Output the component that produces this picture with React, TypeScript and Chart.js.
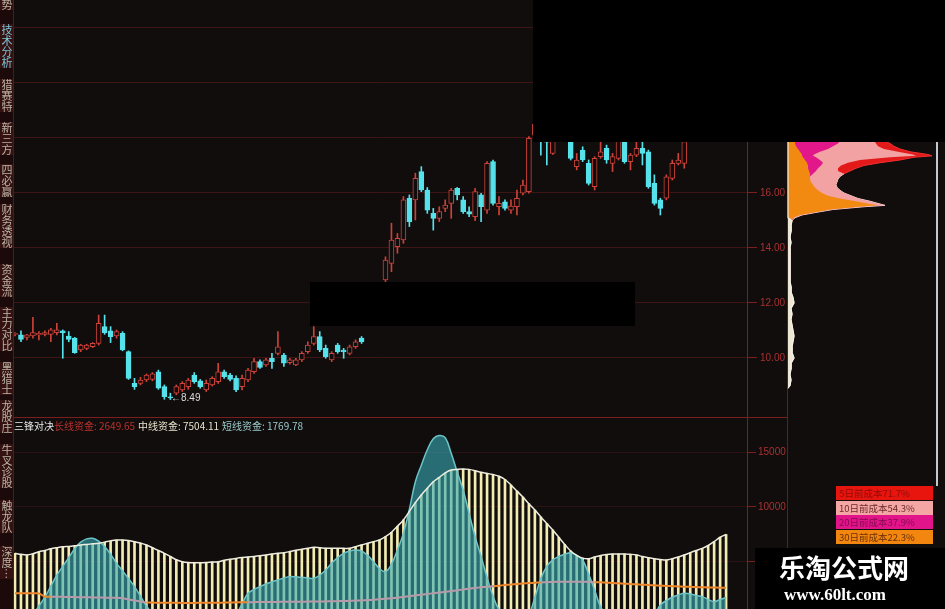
import React, { useEffect, useRef } from 'react';
import Chart from 'chart.js/auto';

// ---------- price panel (candles) ----------
const OPEN = [
  10.86, 10.84, 10.75, 10.80, 10.84, 10.86, 10.86, 10.92, 10.99, 10.80,
  10.72, 10.29, 10.35, 10.41, 10.53, 11.14, 10.99, 10.80, 10.90, 10.23,
  9.08, 9.08, 9.20, 9.22, 9.50, 8.96, 8.59, 8.72, 8.84, 8.96,
  9.38, 9.17, 8.84, 9.02, 9.14, 9.50, 9.38, 9.26, 8.96, 9.20,
  9.50, 9.87, 9.75, 9.99, 10.17, 10.11, 9.83, 9.75, 9.93, 10.23,
  10.53, 10.78, 10.35, 9.93, 10.47, 10.29, 10.17, 10.41, 10.72, 11.20,
  11.60, 12.10, 12.84, 13.44, 14.05, 14.29, 15.81, 15.75, 16.78, 16.11,
  15.26, 15.08, 15.44, 15.62, 16.17, 15.75, 15.32, 15.14, 15.93, 15.38,
  17.14, 15.50, 15.68, 15.38, 15.50, 15.99, 16.05, 18.10, 18.30, 18.00,
  17.44, 18.40, 18.70, 18.20, 16.96, 17.56, 17.08, 16.23, 17.32, 17.62,
  17.08, 17.26, 17.95, 17.14, 17.38, 17.62, 17.50, 16.35, 15.75, 15.81,
  16.53, 17.08, 17.08, 17.90, 18.40, 18.90, 18.50, 18.90, 19.30, 19.00,
];
const HIGH = [
  10.92, 10.99, 10.86, 11.48, 10.96, 10.99, 11.08, 11.26, 11.02, 10.96,
  10.75, 10.50, 10.50, 10.56, 11.56, 11.56, 11.14, 11.02, 10.96, 10.26,
  9.26, 9.30, 9.42, 9.47, 9.56, 9.02, 8.72, 9.02, 9.14, 9.26,
  9.47, 9.22, 9.20, 9.32, 9.81, 9.56, 9.44, 9.35, 9.38, 9.62,
  9.99, 9.93, 9.99, 10.17, 10.96, 10.17, 9.99, 9.99, 10.23, 10.59,
  11.14, 10.96, 10.47, 10.23, 10.53, 10.35, 10.47, 10.66, 10.78, 11.70,
  12.20, 12.70, 13.68, 14.90, 14.53, 15.87, 15.93, 16.72, 16.96, 16.20,
  15.44, 15.50, 15.75, 16.17, 16.20, 15.87, 15.50, 16.17, 15.99, 17.14,
  17.20, 15.87, 15.75, 15.75, 16.11, 16.47, 18.05, 18.70, 18.60, 18.20,
  18.30, 18.90, 19.00, 18.40, 17.44, 17.68, 17.20, 17.32, 17.87, 17.74,
  17.44, 18.10, 18.10, 17.44, 17.85, 17.90, 17.56, 16.66, 15.81, 16.66,
  17.20, 17.44, 18.00, 18.60, 19.10, 19.20, 19.00, 19.50, 19.60, 19.70,
];
const LOW = [
  10.80, 10.59, 10.66, 10.72, 10.66, 10.80, 10.59, 10.84, 9.99, 10.59,
  10.17, 10.23, 10.30, 10.38, 10.47, 10.86, 10.56, 10.72, 10.26, 9.22,
  8.86, 9.02, 9.14, 9.17, 8.86, 8.50, 8.49, 8.66, 8.78, 8.86,
  9.08, 8.90, 8.78, 8.98, 9.08, 9.26, 9.17, 8.78, 8.84, 9.14,
  9.44, 9.62, 9.69, 9.62, 10.11, 9.69, 9.78, 9.72, 9.87, 10.17,
  10.47, 10.23, 9.99, 9.87, 10.17, 9.99, 10.11, 10.35, 10.53, 11.18,
  11.50, 12.00, 12.78, 13.14, 13.81, 14.17, 14.78, 15.02, 16.05, 15.26,
  14.65, 14.96, 15.32, 15.08, 15.75, 15.26, 15.14, 14.99, 14.96, 15.26,
  15.56, 15.20, 15.38, 15.26, 15.20, 15.93, 15.99, 18.00, 17.38, 17.02,
  17.40, 18.20, 18.10, 17.20, 16.84, 17.14, 16.29, 16.11, 17.26, 17.08,
  16.78, 17.20, 17.08, 16.84, 17.32, 17.02, 16.17, 15.56, 15.20, 15.75,
  16.47, 17.02, 16.90, 17.88, 18.30, 17.90, 18.30, 18.70, 18.90, 18.90,
];
const CLOSE = [
  10.87, 10.68, 10.84, 10.92, 10.90, 10.92, 11.02, 11.02, 10.92, 10.68,
  10.19, 10.47, 10.47, 10.53, 11.26, 10.92, 10.78, 10.96, 10.29, 9.26,
  8.96, 9.20, 9.38, 9.42, 8.90, 8.59, 8.55, 8.96, 9.08, 9.20,
  9.14, 8.96, 9.08, 9.26, 9.50, 9.32, 9.22, 8.84, 9.26, 9.56,
  9.87, 9.66, 9.93, 9.87, 10.41, 9.81, 9.93, 9.93, 10.17, 10.47,
  10.78, 10.29, 10.05, 10.17, 10.23, 10.23, 10.41, 10.59, 10.59, 11.60,
  12.10, 12.60, 13.56, 14.29, 14.35, 15.75, 14.96, 16.53, 16.11, 15.38,
  15.08, 15.32, 15.56, 16.11, 15.93, 15.32, 15.23, 16.05, 15.50, 17.08,
  15.62, 15.62, 15.44, 15.52, 15.81, 16.29, 17.99, 18.50, 17.90, 17.85,
  18.10, 18.70, 18.30, 17.26, 17.20, 17.20, 16.35, 17.26, 17.50, 17.20,
  17.32, 17.90, 17.14, 17.38, 17.62, 17.44, 16.23, 15.62, 15.44, 16.59,
  17.08, 17.20, 17.87, 18.40, 18.90, 18.50, 18.90, 19.30, 19.00, 19.40,
];
const PRICE_TICKS = [10, 12, 14, 16, 18, 20, 22];

// ---------- indicator panel (三锋对决) ----------
const MID_FUND = [
  5790, 5700, 5640, 5750, 5940, 6050, 6200, 6300, 6380, 6420,
  6480, 6550, 6600, 6650, 6700, 6800, 6920, 7000, 7000, 6950,
  6850, 6720, 6550, 6300, 6050, 5790, 5500, 5200, 5030, 4960,
  4940, 4940, 4960, 5000, 5030, 5150, 5250, 5330, 5400, 5460,
  5500, 5560, 5640, 5720, 5800, 5850, 5950, 6060, 6150, 6250,
  6330, 6300, 6260, 6240, 6240, 6240, 6250, 6400, 6550, 6700,
  6850, 7000, 7300, 7700, 8250, 8820, 9600, 10400, 11100, 11700,
  12300, 12700, 13100, 13360, 13420, 13450, 13420, 13300, 13150, 13060,
  12950, 12800, 12500, 12000, 11450, 10900, 10300, 9730, 9100, 8500,
  7910, 7250, 6600, 6000, 5600, 5350, 5300, 5450, 5600, 5680,
  5720, 5730, 5730, 5700, 5640, 5500, 5380, 5300, 5230, 5180,
  5300, 5450, 5640, 5850, 6050, 6240, 6500, 6850, 7250, 7504.11,
];
const SHORT_FUND = [
  300, 300, 300, 300, 1000, 1800, 2800, 3800, 4600, 5400,
  6200, 6800, 7100, 7150, 6900, 6400, 5700, 4880, 4200, 3500,
  2760, 1900, 1000, 400, 300, 300, 300, 300, 300, 300,
  300, 300, 300, 300, 300, 300, 300, 300, 1200, 2150,
  2500, 2760, 3000, 3200, 3370, 3550, 3670, 3650, 3600, 3550,
  3520, 3800, 4270, 4900, 5400, 5790, 6000, 6090, 6000, 5600,
  5030, 4400, 4130, 4800, 6100, 7600, 9800, 12300, 13800, 15200,
  16200, 16500, 16300, 14880, 13200, 11540, 9400, 7300, 5500, 3600,
  1900, 700, 300, 300, 300, 300, 300, 1800, 3500, 4600,
  5200, 5500, 5700, 5850, 5600, 5180, 3900, 2450, 940, 300,
  300, 300, 300, 300, 300, 300, 300, 300, 1100, 1500,
  1800, 2000, 2150, 2100, 1950, 1850, 1600, 1390, 1600, 1769.78,
];
const LONG_FUND = [
  2150, 2150, 2150, 2150, 2150, 1850, 1850, 1840, 1830, 1820,
  1810, 1800, 1790, 1780, 1770, 1760, 1750, 1740, 1700, 1600,
  1500, 1400, 1320, 1310, 1300, 1300, 1290, 1290, 1280, 1280,
  1280, 1290, 1290, 1300, 1300, 1310, 1320, 1330, 1340, 1350,
  1350, 1360, 1360, 1370, 1370, 1380, 1380, 1390, 1390, 1400,
  1400, 1410, 1420, 1430, 1440, 1450, 1470, 1490, 1510, 1540,
  1570, 1610, 1650, 1700, 1760, 1820, 1890, 1960, 2030, 2100,
  2150, 2220, 2290, 2360, 2430, 2500, 2570, 2640, 2700, 2760,
  2800, 2850, 2900, 2950, 3000, 3040, 3080, 3110, 3140, 3170,
  3190, 3200, 3210, 3210, 3210, 3200, 3190, 3170, 3150, 3120,
  3090, 3060, 3030, 3000, 2970, 2940, 2910, 2880, 2850, 2820,
  2800, 2780, 2760, 2740, 2720, 2700, 2690, 2680, 2665, 2649.65,
];
const FUND_TICKS = [5000, 10000, 15000];

// ---------- chip distribution (筹码分布) ----------
const CHIP_PRICES = [
  18.2, 18.0, 17.9, 17.8, 17.7, 17.6, 17.5, 17.4, 17.35, 17.3,
  17.2, 17.1, 17.0, 16.9, 16.8, 16.7, 16.6, 16.5, 16.4, 16.3,
  16.2, 16.1, 16.0, 15.9, 15.8, 15.7, 15.6, 15.55, 15.5, 15.4,
  15.3, 15.2, 15.1, 15.0, 14.8, 14.6, 14.4, 14.2, 14.0, 13.8,
  13.6, 13.4, 13.2, 13.0, 12.8, 12.6, 12.4, 12.2, 12.0, 11.8,
  11.6, 11.4, 11.2, 11.0, 10.8, 10.6, 10.4, 10.2, 10.0, 9.8,
  9.6, 9.4, 9.2, 9.0, 8.9,
];
const CHIP_RED = [
  85, 92, 96, 102, 106, 112, 122, 140, 144, 126,
  112, 92, 76, 68, 62, 56, 52, 50, 49, 48,
  49, 52, 56, 63, 70, 82, 92, 97, 76, 45,
  29, 14, 7, 4, 3, 3, 2, 3, 2, 2,
  2, 2, 2, 2, 2, 3, 3, 5, 6, 3,
  4, 3, 4, 5, 6, 5, 4, 4, 6, 3,
  3, 2, 3, 2, 0,
];
const CHIP_PINK = [
  80, 84, 86, 88, 90, 96, 110, 125, 128, 102,
  72, 60, 53, 50, 50, 56, 52, 50, 49, 48,
  49, 52, 56, 63, 70, 82, 92, 97, 76, 45,
  29, 14, 7, 0, 0, 0, 0, 0, 0, 0,
  0, 0, 0, 0, 0, 0, 0, 0, 0, 0,
  0, 0, 0, 0, 0, 0, 0, 0, 0, 0,
  0, 0, 0, 0, 0,
];
const CHIP_MAGENTA = [
  52, 52, 52, 50, 45, 40, 32, 26, 25, 28,
  32, 35, 33, 30, 28, 25, 22, 18, 14, 0,
  0, 0, 0, 0, 0, 0, 0, 0, 0, 0,
  0, 0, 0, 0, 0, 0, 0, 0, 0, 0,
  0, 0, 0, 0, 0, 0, 0, 0, 0, 0,
  0, 0, 0, 0, 0, 0, 0, 0, 0, 0,
  0, 0, 0, 0, 0,
];
const CHIP_ORANGE = [
  7, 7, 7, 7, 8, 10, 12, 14, 14, 15,
  17, 19, 20, 20, 21, 22, 22, 22, 23, 25,
  27, 30, 34, 40, 52, 68, 82, 90, 70, 42,
  27, 12, 5, 0, 0, 0, 0, 0, 0, 0,
  0, 0, 0, 0, 0, 0, 0, 0, 0, 0,
  0, 0, 0, 0, 0, 0, 0, 0, 0, 0,
  0, 0, 0, 0, 0,
];
const CHIP_BASE = [
  0, 0, 0, 0, 0, 0, 0, 0, 0, 0,
  0, 0, 0, 0, 0, 0, 0, 0, 0, 0,
  0, 0, 0, 0, 0, 0, 0, 0, 0, 0,
  0, 0, 0, 4, 3, 3, 2, 3, 2, 2,
  2, 2, 2, 2, 2, 3, 3, 5, 6, 3,
  4, 3, 4, 5, 6, 5, 4, 4, 6, 3,
  3, 2, 3, 2, 0,
];

const CHIP_LEGEND = [
  { text: '5日前成本71.7%', bg: '#e8140e', fg: '#9a0a06' },
  { text: '10日前成本54.3%', bg: '#f4a6a4', fg: '#6a2a2a' },
  { text: '20日前成本37.9%', bg: '#e2148a', fg: '#8a0a50' },
  { text: '30日前成本22.3%', bg: '#f2860e', fg: '#6a3008' },
];

const SIDEBAR = [
  { t: '势', top: -1 },
  { t: '技术分析', top: 24, active: true },
  { t: '猎赛特', top: 79 },
  { t: '新三方', top: 122 },
  { t: '四必赢', top: 164 },
  { t: '财务透视', top: 204 },
  { t: '资金流', top: 264 },
  { t: '主力对比', top: 307 },
  { t: '黑猎士', top: 362 },
  { t: '龙股庄', top: 400 },
  { t: '牛叉诊股', top: 444 },
  { t: '触龙队', top: 500 },
  { t: '深度…', top: 546 },
];

const PRICE_MIN = 7.818;
const PRICE_MAX = 23.018;
const FUND_MIN = 727;
const FUND_MAX = 18091;

const BG = '#110d0d';
const RED = '#cc4238';
const CYAN = '#56e2ea';
const GRID = '#3e1414';
const AXIS = '#7a1e1e';
const LABEL = '#a83232';

const fitAxis = (s: any) => {
  s.width = 41;
  s.paddingTop = 0;
  s.paddingBottom = 0;
};

export default function App() {
  const priceRef = useRef<HTMLCanvasElement>(null);
  const fundRef = useRef<HTMLCanvasElement>(null);
  const chipRef = useRef<HTMLCanvasElement>(null);

  useEffect(() => {
    Chart.defaults.font.family = "'Liberation Sans', Arial, sans-serif";
    Chart.defaults.font.size = 10;
    const labels = OPEN.map((_, i) => 'D' + (i + 1)).concat(['D121', 'D122', 'D123']);
    const up = CLOSE.map((c, i) => c >= OPEN[i]);

    const price = new Chart(priceRef.current!, {
      type: 'bar',
      data: {
        labels,
        datasets: [
          {
            label: 'body',
            data: OPEN.map((o, i) => [Math.min(o, CLOSE[i]), Math.max(o, CLOSE[i])]) as any,
            backgroundColor: up.map((u) => (u ? BG : CYAN)),
            borderColor: up.map((u) => (u ? RED : CYAN)),
            borderWidth: 1,
            borderSkipped: false,
            barThickness: 5,
            minBarLength: 1,
            grouped: false,
            order: 0,
          } as any,
          {
            label: 'wick',
            data: LOW.map((l, i) => [l, HIGH[i]]) as any,
            backgroundColor: up.map((u) => (u ? RED : CYAN)),
            borderWidth: 0,
            barThickness: 1,
            grouped: false,
            order: 1,
          } as any,
        ],
      },
      options: {
        responsive: false,
        animation: false,
        events: [],
        layout: { padding: { left: 12, right: 0, top: 0, bottom: 0 }, autoPadding: false } as any,
        plugins: { legend: { display: false }, tooltip: { enabled: false } },
        scales: {
          x: { display: false, offset: true },
          y: {
            position: 'right',
            min: PRICE_MIN,
            max: PRICE_MAX,
            afterBuildTicks: (s: any) => { s.ticks = PRICE_TICKS.map((v) => ({ value: v })); },
            afterFit: fitAxis,
            grid: { color: GRID, tickColor: AXIS, tickLength: 10, lineWidth: 1 },
            border: { color: AXIS },
            ticks: { color: LABEL, padding: 3, callback: (v: any) => Number(v).toFixed(2) },
          },
        },
      } as any,
    });

    const fund = new Chart(fundRef.current!, {
      type: 'bar',
      data: {
        labels,
        datasets: [
          {
            type: 'line',
            label: '长线资金',
            data: LONG_FUND,
            borderColor: '#f0862a',
            borderWidth: 2,
            pointRadius: 0,
            tension: 0.3,
            order: 0,
            segment: {
              borderColor: (ctx: any) =>
                SHORT_FUND[ctx.p0DataIndex] > LONG_FUND[ctx.p0DataIndex] ? '#b89aa8' : '#f0862a',
            },
          } as any,
          {
            type: 'line',
            label: 'outline',
            data: MID_FUND,
            borderColor: '#eeeede',
            borderWidth: 1.5,
            pointRadius: 0,
            tension: 0.35,
            order: 1,
          } as any,
          {
            type: 'line',
            label: '短线资金',
            data: SHORT_FUND,
            borderColor: '#6cc4c8',
            backgroundColor: 'rgba(56,170,180,0.62)',
            fill: 'origin',
            borderWidth: 1.5,
            pointRadius: 0,
            tension: 0.4,
            order: 2,
          } as any,
          {
            type: 'bar',
            label: '中线资金',
            data: MID_FUND,
            backgroundColor: '#f2ecb0',
            barThickness: 2,
            order: 3,
          } as any,
        ],
      },
      options: {
        responsive: false,
        animation: false,
        events: [],
        layout: { padding: { left: 12, right: 0, top: 0, bottom: 0 }, autoPadding: false } as any,
        plugins: { legend: { display: false }, tooltip: { enabled: false } },
        scales: {
          x: { display: false, offset: true },
          y: {
            position: 'right',
            min: FUND_MIN,
            max: FUND_MAX,
            afterBuildTicks: (s: any) => { s.ticks = FUND_TICKS.map((v) => ({ value: v })); },
            afterFit: fitAxis,
            grid: { color: '#2c1212', tickColor: AXIS, tickLength: 9, lineWidth: 1 },
            border: { color: AXIS },
            ticks: { color: LABEL, padding: 2, callback: (v: any) => String(v) },
          },
        },
      } as any,
    });

    const pts = (arr: number[]) => CHIP_PRICES.map((p, i) => ({ x: arr[i], y: p }));
    const chip = new Chart(chipRef.current!, {
      type: 'line',
      data: {
        datasets: [
          {
            data: pts(CHIP_RED),
            fill: 'origin',
            backgroundColor: '#e41a1a',
            borderWidth: 1,
            borderColor: '#f4dada',
            segment: { borderColor: (ctx: any) => (ctx.p0.parsed.y > 16.75 ? '#f03030' : '#f4dada') },
            order: 5,
          } as any,
          { data: pts(CHIP_PINK), fill: 'origin', backgroundColor: '#f2a2a2', borderWidth: 0, order: 4 } as any,
          { data: pts(CHIP_MAGENTA), fill: 'origin', backgroundColor: '#e2188a', borderWidth: 0, order: 3 } as any,
          { data: pts(CHIP_ORANGE), fill: 'origin', backgroundColor: '#f28a12', borderWidth: 0, order: 2 } as any,
          {
            data: pts(CHIP_BASE),
            fill: 'origin',
            backgroundColor: '#ece6d2',
            borderColor: '#f4f2ea',
            borderWidth: 1.2,
            order: 1,
          } as any,
        ],
      },
      options: {
        indexAxis: 'y',
        responsive: false,
        animation: false,
        events: [],
        layout: { padding: 0, autoPadding: false } as any,
        elements: { point: { radius: 0 }, line: { tension: 0 } },
        plugins: { legend: { display: false }, tooltip: { enabled: false } },
        scales: {
          x: { type: 'linear', min: -1, max: 149, display: false },
          y: { type: 'linear', min: PRICE_MIN, max: PRICE_MAX, display: false },
        },
      } as any,
    });

    return () => {
      price.destroy();
      fund.destroy();
      chip.destroy();
    };
  }, []);

  const abs = (s: React.CSSProperties): React.CSSProperties => ({ position: 'absolute', ...s });
  const cjk = "'Noto Sans CJK SC', 'Noto Sans', sans-serif";

  return (
    <div style={{ position: 'fixed', left: 0, top: 0, width: 945, height: 609, background: BG, overflow: 'hidden' }}>
      {/* structural lines */}
      <div style={abs({ left: 787, top: 0, width: 1, height: 609, background: '#6a1a1a' })} />
      <canvas ref={priceRef} width={788} height={418} style={abs({ left: 0, top: 0 })} />
      <canvas ref={fundRef} width={788} height={191} style={abs({ left: 0, top: 418 })} />
      <canvas ref={chipRef} width={150} height={418} style={abs({ left: 787, top: 0 })} />
      <div style={abs({ left: 13, top: 417, width: 775, height: 1, background: '#7a1e1e' })} />
      <div style={abs({ left: 936, top: 142, width: 2, height: 344, background: '#c4c8cc' })} />

      {/* masking boxes */}
      <div style={abs({ left: 533, top: 0, width: 412, height: 142, background: '#000' })} />
      <div style={abs({ left: 310, top: 282, width: 325, height: 44, background: '#000' })} />

      {/* low marker */}
      <div style={abs({ left: 171, top: 392, fontFamily: "'Liberation Sans', sans-serif", fontSize: 10, color: '#dcdcdc', whiteSpace: 'nowrap' })}>←8.49</div>

      {/* sidebar */}
      <div style={abs({ left: 0, top: 0, width: 13, height: 609, background: '#1c0a0a' })} />
      <div style={abs({ left: 13, top: 0, width: 1, height: 609, background: '#5a1616' })} />
      {SIDEBAR.map((s) => (
        <div
          key={s.t}
          style={abs({
            left: 0,
            top: s.top,
            width: 13,
            writingMode: 'vertical-rl',
            fontFamily: cjk,
            fontSize: 11,
            lineHeight: '13px',
            color: s.active ? '#7cc4d8' : '#bcb4a4',
            background: '#341212',
            whiteSpace: 'nowrap',
          })}
        >
          {s.t}
        </div>
      ))}

      {/* indicator title */}
      <div style={abs({ left: 14, top: 419, fontFamily: cjk, fontSize: 10, lineHeight: '13px', color: '#ececec', whiteSpace: 'nowrap' })}>三锋对决</div>
      <div style={abs({ left: 54, top: 419, fontFamily: cjk, fontSize: 10, lineHeight: '13px', color: '#b8322c', whiteSpace: 'nowrap' })}>长线资金: 2649.65</div>
      <div style={abs({ left: 138, top: 419, fontFamily: cjk, fontSize: 10, lineHeight: '13px', color: '#e6e2cc', whiteSpace: 'nowrap' })}>中线资金: 7504.11</div>
      <div style={abs({ left: 222, top: 419, fontFamily: cjk, fontSize: 10, lineHeight: '13px', color: '#9ccaca', whiteSpace: 'nowrap' })}>短线资金: 1769.78</div>

      {/* chip legend */}
      {CHIP_LEGEND.map((l, i) => (
        <div
          key={l.text}
          style={abs({
            left: 836,
            top: 486 + i * 14.5,
            width: 97,
            height: 14,
            background: l.bg,
            color: l.fg,
            fontFamily: cjk,
            fontSize: 9.5,
            lineHeight: '14px',
            paddingLeft: 3,
            boxSizing: 'border-box',
            whiteSpace: 'nowrap',
          })}
        >
          {l.text}
        </div>
      ))}

      {/* watermark */}
      <div style={abs({ left: 755, top: 548, width: 190, height: 61, background: '#000' })} />
      <div style={abs({ left: 779, top: 550, fontFamily: cjk, fontWeight: 700, fontSize: 26, lineHeight: '34px', color: '#ffffff', whiteSpace: 'nowrap' })}>乐淘公式网</div>
      <div style={abs({ left: 784, top: 585, fontFamily: "'Liberation Serif', serif", fontWeight: 700, fontSize: 17, lineHeight: '20px', color: '#ffffff', whiteSpace: 'nowrap' })}>www.60lt.com</div>
    </div>
  );
}
